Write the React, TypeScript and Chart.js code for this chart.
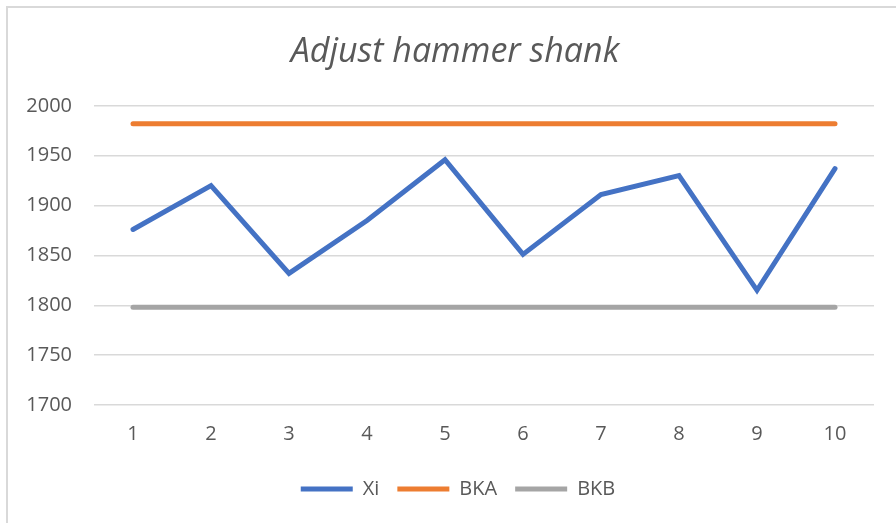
import React, { useEffect, useRef } from "react";
import { Chart, registerables } from "chart.js";

Chart.register(...registerables);

const categories = ["1", "2", "3", "4", "5", "6", "7", "8", "9", "10"];
const xiValues = [1876, 1920, 1832, 1885, 1946, 1851, 1911, 1930, 1815, 1937];
const bkaValues = [1982, 1982, 1982, 1982, 1982, 1982, 1982, 1982, 1982, 1982];
const bkbValues = [1798, 1798, 1798, 1798, 1798, 1798, 1798, 1798, 1798, 1798];
const titleText = "Adjust hammer shank";

const FONT = "'Open Sans', 'Liberation Sans', sans-serif";
const TEXT = "#595959";

const blockShift = {
  id: "blockShift",
  afterLayout(chart: any) {
    if (chart.legend) {
      chart.legend.left += 16;
      chart.legend.right += 16;
    }
    if (chart.titleBlock) {
      chart.titleBlock.left += 13;
      chart.titleBlock.right += 13;
    }
  },
};

export default function App() {
  const ref = useRef<HTMLCanvasElement | null>(null);
  useEffect(() => {
    const canvas = ref.current;
    if (!canvas) return;
    const mk = (label: string, data: number[], color: string) => ({
      label,
      data,
      borderColor: color,
      backgroundColor: color,
      borderWidth: 5,
      borderCapStyle: "round" as const,
      borderJoinStyle: "miter" as const,
      pointRadius: 0,
      pointHoverRadius: 0,
      pointStyle: "line" as const,
      tension: 0,
      fill: false,
    });
    const chart = new Chart(canvas, {
      type: "line",
      data: {
        labels: categories,
        datasets: [
          mk("Xi", xiValues, "#4472C4"),
          mk("BKA", bkaValues, "#ED7D31"),
          mk("BKB", bkbValues, "#A5A5A5"),
        ],
      },
      plugins: [blockShift],
      options: {
        animation: false,
        responsive: false,
        maintainAspectRatio: false,
        layout: { padding: { left: 10, right: 22, top: 0, bottom: 14 } },
        plugins: {
          title: {
            display: true,
            text: titleText,
            color: TEXT,
            font: { family: FONT, size: 34, style: "italic", weight: "normal", lineHeight: 1.2 },
            padding: { top: 32, bottom: 33 },
          },
          legend: {
            display: true,
            position: "bottom",
            labels: {
              color: TEXT,
              font: { family: FONT, size: 20 },
              usePointStyle: true,
              pointStyleWidth: 52,
              boxHeight: 5,
              padding: 18,
            },
          },
          tooltip: { enabled: false },
        },
        scales: {
          x: {
            offset: true,
            grid: { display: false, drawTicks: false },
            border: { display: false },
            ticks: { color: TEXT, font: { family: FONT, size: 20 }, padding: 17, maxRotation: 0 },
            afterFit: (s: any) => {
              s.height = 56;
            },
          },
          y: {
            min: 1700,
            max: 2000,
            ticks: {
              stepSize: 50,
              color: TEXT,
              font: { family: FONT, size: 20 },
              padding: 22,
              callback: (v: any) => String(v),
            },
            grid: { color: "#D9D9D9", lineWidth: 1.5, drawTicks: false },
            border: { display: false },
            afterFit: (s: any) => {
              s.width = 84;
            },
          },
        },
      },
    });
    return () => chart.destroy();
  }, []);
  return (
    <div style={{ position: "fixed", left: 0, top: 0, width: 896, height: 523, background: "#fff" }}>
      <canvas ref={ref} width={896} height={523} style={{ position: "absolute", left: 0, top: 0 }} />
      <div
        style={{
          position: "absolute",
          left: 6,
          top: 6,
          width: 900,
          height: 530,
          borderLeft: "2px solid #D9D9D9",
          borderTop: "2px solid #D9D9D9",
          pointerEvents: "none",
        }}
      />
    </div>
  );
}
